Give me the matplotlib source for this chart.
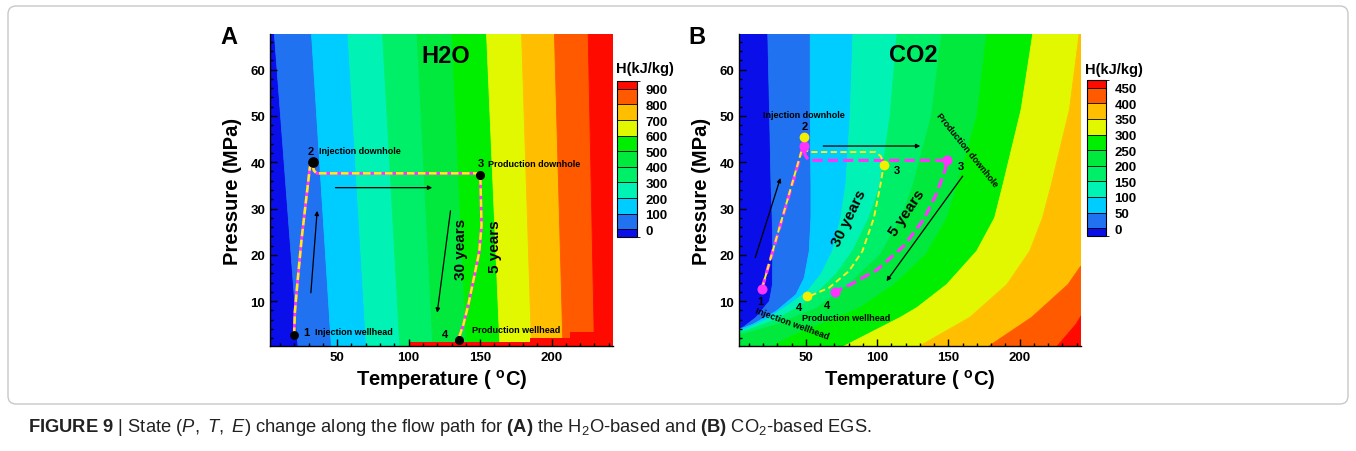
import matplotlib
matplotlib.use('Agg')
import matplotlib.pyplot as plt
from matplotlib.colors import ListedColormap, BoundaryNorm
from matplotlib.cm import ScalarMappable
from matplotlib.patches import FancyBboxPatch
from matplotlib.ticker import MultipleLocator

plt.rcParams['font.family'] = ['Liberation Sans', 'DejaVu Sans']
plt.rcParams['font.weight'] = 'bold'
plt.rcParams['axes.labelweight'] = 'bold'
plt.rcParams['mathtext.fontset'] = 'custom'
plt.rcParams['mathtext.rm'] = 'Liberation Sans:normal'
plt.rcParams['mathtext.it'] = 'Liberation Sans:italic:normal'
plt.rcParams['mathtext.bf'] = 'Liberation Sans:bold'

W, H = 1356, 452
temp_lim = (3, 243)
pres_lim = (0.3, 67.7)

band_colors = ['#0a0ee8', '#2072f0', '#00cdff', '#00f2b4', '#00ef68', '#00e93c',
               '#00ef00', '#e2f800', '#ffbf00', '#ff5a00', '#ff0a00']

# ---- H2O: enthalpy contour edges (T in degC at 68 MPa and at 0 MPa)
h2o_levels = [0, 100, 200, 300, 400, 500, 600, 700, 800, 900]
h2o_edge_top = [6, 32, 57.5, 81.7, 105.8, 130.2, 154.5, 179, 202, 225.6]
h2o_edge_bot = [22.7, 46, 70.5, 93.9, 117, 140.5, 163.9, 186, 208, 230]
h2o_strip_T = [101, 185, 213, 250]
h2o_strip_P = [1.1, 2.05, 3.3]

# flow path (30 and 5 years nearly coincide)
h2o_path_T = [19.9, 20.4, 22, 25.1, 28.6, 30.9, 32.5, 33.7, 35.6, 149.9, 150.3, 151, 149.4, 145.6, 141.7, 138.2, 135.4]
h2o_path_P = [2.7, 7.6, 13.3, 23.4, 32.8, 38.9, 39.8, 38.2, 37.6, 37.6, 35.7, 26.3, 20.6, 14.9, 9.1, 4.8, 2.3]
h2o_pts_T = [19.9, 33.2, 150.1, 135.1]
h2o_pts_P = [2.7, 40.1, 37.3, 1.7]
h2o_pts_size = [5.3, 6.7, 5.5, 5.5]
h2o_arrows = [((31.6, 11.8), (36, 29.5)), ((48.8, 34.5), (116.5, 34.5)), ((129.3, 29.5), (120, 7.5))]

# ---- CO2: enthalpy contour edges, each traced from top to bottom/left
co2_levels = [0, 50, 100, 150, 200, 250, 300, 350, 400, 450]
co2_edge_T = [
    [23.2, 24.5, 25.5, 26.3, 26.7, 26.5, 24.4, 15.1, 5.8, 0],
    [53, 53, 53.5, 53.5, 52.3, 48.8, 43, 29, 12.8, 0],
    [83, 81, 78, 74.4, 68.6, 60.5, 51.2, 38.4, 22.1, 8.1, 0],
    [114, 109, 102, 94.2, 82.6, 71, 59.3, 47.7, 29, 8, 0],
    [145.4, 138, 125, 117, 102, 80, 58, 30, 8, 0],
    [176.8, 170, 156, 149, 134, 112, 88, 60, 40, 25],
    [209.3, 201, 188.3, 182.4, 169.8, 148.8, 127.9, 116.3, 75],
    [241.8, 234.9, 222, 216, 207, 191, 165, 128],
    [247, 242, 233.9, 208.4, 177],
    [247, 243, 239.5, 225.5],
]
co2_edge_P = [
    [68, 50, 35, 28, 20.8, 13.6, 10, 6.5, 4.3, 3.7],
    [68, 50, 35, 28, 20.8, 15, 11.4, 7.8, 5.0, 3.5],
    [68, 50, 35.2, 28, 20.8, 15.8, 12.2, 9.3, 6.0, 4.0, 3.3],
    [68, 50, 35, 28, 20.8, 15.8, 12.2, 9.3, 6.0, 3.6, 3.1],
    [68, 50, 35, 28, 20, 13.6, 8.6, 5, 3, 2.6],
    [68, 50, 35, 28, 20, 13.6, 8.6, 5, 2.5, 0],
    [68, 51.4, 35.2, 28, 20.8, 13.6, 8.6, 6.5, 0],
    [68, 51.4, 35, 28, 20.8, 13.6, 6.5, 0],
    [19, 17.2, 13.6, 6.5, 0],
    [7.5, 6.8, 5.0, 0],
]

co2_30y_T = [19.1, 48.5, 49.5, 52, 98.8, 102.5, 104.6, 102.3, 97.7, 89.6, 80.2, 66.3, 51.2]
co2_30y_P = [12.7, 44.2, 42.8, 42.2, 42.2, 41.3, 39.5, 35.2, 28, 20.8, 16.5, 12.9, 10.9]
co2_5y_T = [19.1, 48.2, 49.5, 52, 148.9, 147.7, 141.9, 132.6, 118.6, 100, 81.4, 70.2]
co2_5y_P = [12.7, 43.6, 41.5, 40.4, 40.4, 38.4, 33.4, 27.6, 21.9, 16.8, 13.6, 12]
co2_30y_pts_T = [48.8, 104.6, 50.7]
co2_30y_pts_P = [45.5, 39.3, 11.0]
co2_5y_pts_T = [19.1, 48.5, 148.9, 70.2]
co2_5y_pts_P = [12.7, 43.6, 40.4, 12.0]
co2_arrows = [((14.4, 19.4), (32.1, 36.6)), ((62.1, 43.5), (130.2, 43.5)), ((160, 37), (106.5, 14.3))]

MAGENTA = '#ff33ff'
YELLOW = '#ffec1a'


def draw_bands(ax, edges_T, edges_P):
    far_l, far_r, far_top, far_bot = -100, 320, 90, -20
    curves = [([far_l, far_l], [far_top, far_bot])]
    for T, P in zip(edges_T, edges_P):
        t0 = T[0] if T[0] < temp_lim[1] else far_r
        curves.append(([t0] + list(T) + [far_l], [far_top] + list(P) + [far_bot]))
    curves.append(([far_r, far_r], [far_top, far_bot]))
    for (ta, pa), (tb, pb), c in zip(curves[:-1], curves[1:], band_colors):
        ax.fill(ta + tb[::-1], pa + pb[::-1], color=c, ec=c, lw=0.6)


def style_axes(ax):
    ax.set_xlim(*temp_lim)
    ax.set_ylim(*pres_lim)
    ax.xaxis.set_major_locator(MultipleLocator(50))
    ax.xaxis.set_minor_locator(MultipleLocator(10))
    ax.yaxis.set_major_locator(MultipleLocator(10))
    ax.yaxis.set_minor_locator(MultipleLocator(2))
    ax.tick_params(which='both', direction='in', width=1, labelsize=9.5, pad=3.5)
    ax.tick_params(which='major', length=5)
    ax.tick_params(which='minor', length=2.5)
    for s in ['top', 'right']:
        ax.spines[s].set_visible(False)
    for s in ['left', 'bottom']:
        ax.spines[s].set_linewidth(1)
    ax.set_xlabel('Temperature ( $^{\\mathbf{o}}$C)', fontsize=14.5, labelpad=3)
    ax.set_ylabel('Pressure (MPa)', fontsize=14.5, labelpad=6)


def arrows(ax, arr):
    for (x0, y0), (x1, y1) in arr:
        ax.annotate('', xy=(x1, y1), xytext=(x0, y0),
                    arrowprops=dict(arrowstyle='-|>', color='k', lw=0.9,
                                    mutation_scale=6, shrinkA=0, shrinkB=0))


def colorbar(fig, rect, levels, step):
    cax = fig.add_axes(rect)
    bounds = [levels[0] - step / 2] + levels + [levels[-1] + step / 2]
    cmap = ListedColormap(band_colors)
    norm = BoundaryNorm(bounds, cmap.N)
    cb = fig.colorbar(ScalarMappable(norm=norm, cmap=cmap), cax=cax, boundaries=bounds,
                      spacing='proportional', ticks=levels, drawedges=True)
    cb.outline.set_linewidth(0.8)
    cb.dividers.set_linewidth(0.6)
    cax.tick_params(length=0, pad=6, labelsize=9.5)
    return cax


fig = plt.figure(figsize=(W / 100, H / 100), dpi=100)

# ---------------- panel A
axA = fig.add_axes([270 / W, 1 - 347 / H, 343 / W, 312 / H])
draw_bands(axA, [[t, b] for t, b in zip(h2o_edge_top, h2o_edge_bot)],
           [[68, 0]] * len(h2o_edge_top))
axA.stairs(h2o_strip_P, h2o_strip_T, baseline=-5, fill=True, color=band_colors[-1], lw=0)
axA.plot(h2o_path_T, h2o_path_P, color=MAGENTA, lw=2.0, solid_capstyle='butt')
axA.plot(h2o_path_T, h2o_path_P, color=YELLOW, lw=1.8, dashes=(3, 1.4))
for t, p, s in zip(h2o_pts_T, h2o_pts_P, h2o_pts_size):
    axA.plot(t, p, 'o', color='k', ms=s)
arrows(axA, h2o_arrows)
axA.text(126, 63, 'H2O', fontsize=17, ha='center', va='center')
axA.text(31.6, 42.5, '2', fontsize=8, ha='center', va='center')
axA.text(37.5, 42.6, 'Injection downhole', fontsize=6.5, va='center')
axA.text(150.3, 39.8, '3', fontsize=8, ha='center', va='center')
axA.text(155.5, 39.8, 'Production downhole', fontsize=6.5, va='center')
axA.text(28.5, 3.4, '1', fontsize=8, ha='center', va='center')
axA.text(34.5, 3.4, 'Injection wellhead', fontsize=6.5, va='center')
axA.text(125.3, 3.0, '4', fontsize=8, ha='center', va='center')
axA.text(144, 3.9, 'Production wellhead', fontsize=6.5, va='center')
axA.text(136.3, 21.3, '30 years', fontsize=11, rotation=90, ha='center', va='center')
axA.text(160.3, 22, '5 years', fontsize=11, rotation=90, ha='center', va='center')
style_axes(axA)
caxA = colorbar(fig, [617 / W, 1 - 238 / H, 20 / W, 156 / H], h2o_levels, 100)
fig.text(616 / W, 1 - 69 / H, 'H(kJ/kg)', fontsize=10.5, va='center')

# ---------------- panel B
axB = fig.add_axes([739 / W, 1 - 347 / H, 342 / W, 312 / H])
draw_bands(axB, co2_edge_T, co2_edge_P)
axB.plot(co2_5y_T, co2_5y_P, color=MAGENTA, lw=2.3, dashes=(3.2, 1.6))
axB.plot(co2_30y_T, co2_30y_P, color=YELLOW, lw=1.4, dashes=(3.2, 1.8))
axB.plot(co2_5y_pts_T, co2_5y_pts_P, 'o', color=MAGENTA, ms=6.2, ls='none')
axB.plot(co2_30y_pts_T, co2_30y_pts_P, 'o', color='#f4ee00', ms=6.0, ls='none')
arrows(axB, co2_arrows)
axB.text(125.4, 63.2, 'CO2', fontsize=17, ha='center', va='center')
axB.text(48.8, 50.4, 'Injection downhole', fontsize=6.5, ha='center', va='center')
axB.text(49.3, 47.8, '2', fontsize=8, ha='center', va='center')
axB.text(114, 38.4, '3', fontsize=8, ha='center', va='center')
axB.text(158.7, 39.1, '3', fontsize=8, ha='center', va='center')
axB.text(162.8, 42.7, 'Production downhole', fontsize=6.5, rotation=-51,
         ha='center', va='center', rotation_mode='anchor')
axB.text(18.1, 10, '1', fontsize=8, ha='center', va='center')
axB.text(40.2, 5.2, 'Injection wellhead', fontsize=6.5, rotation=-20,
         ha='center', va='center', rotation_mode='anchor')
axB.text(45.3, 8.8, '4', fontsize=8, ha='center', va='center')
axB.text(65.1, 9.1, '4', fontsize=8, ha='center', va='center')
axB.text(77.9, 6.5, 'Production wellhead', fontsize=6.5, ha='center', va='center')
axB.text(80.2, 28, '30 years', fontsize=11, rotation=64, ha='center', va='center',
         rotation_mode='anchor')
axB.text(121, 29.1, '5 years', fontsize=11, rotation=56, ha='center', va='center',
         rotation_mode='anchor')
style_axes(axB)
caxB = colorbar(fig, [1087 / W, 1 - 237 / H, 19 / W, 156 / H], co2_levels, 50)
fig.text(1085 / W, 1 - 70 / H, 'H(kJ/kg)', fontsize=10.5, va='center')

# panel letters
fig.text(229 / W, 1 - 37 / H, 'A', fontsize=17, ha='center', va='center')
fig.text(697 / W, 1 - 37 / H, 'B', fontsize=17, ha='center', va='center')

# frame and caption
fig.patches.append(FancyBboxPatch((8 / W, 1 - 405 / H), 1340 / W, 398 / H,
                                  boxstyle='round,pad=0,rounding_size=0.006',
                                  mutation_aspect=W / H, transform=fig.transFigure,
                                  fc='none', ec='#c8c8c8', lw=1))
caption = (r'$\mathbf{FIGURE\ 9}$ | State ($\mathit{P,\ T,\ E}$) change along the flow path for '
           r'$\mathbf{(A)}$ the H$_2$O-based and $\mathbf{(B)}$ CO$_2$-based EGS.')
fig.text(28 / W, 1 - 428 / H, caption, fontsize=13.2, fontweight='normal', va='center', color='#222222')

fig.savefig('out.png', dpi=100)
